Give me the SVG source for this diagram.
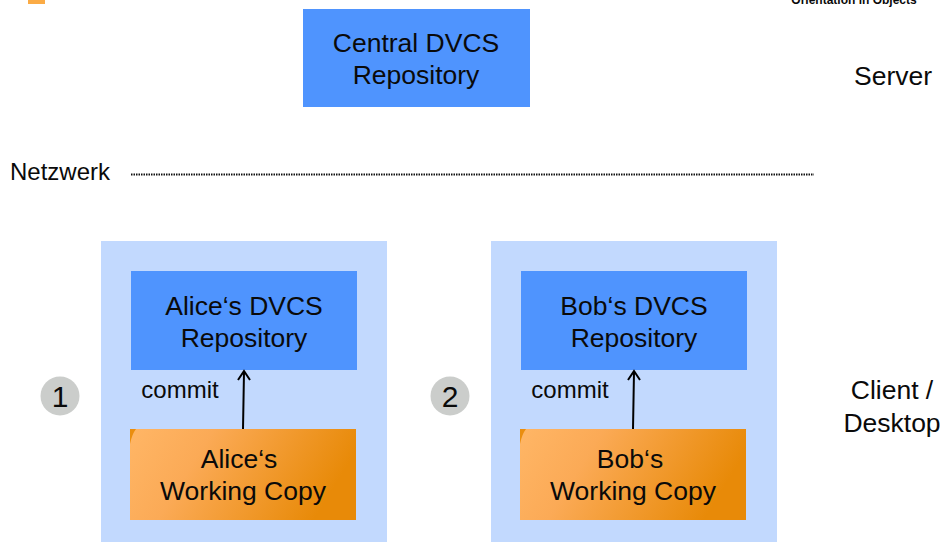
<svg xmlns="http://www.w3.org/2000/svg" width="943" height="542" viewBox="0 0 943 542">
<style>
text{font-family:"Liberation Sans",Arial,sans-serif;font-size:26.500px;fill:#0a0a0a;text-anchor:middle}
.s{font-size:24px}
.blue{fill:#4f94fe}
.panel{fill:#c2d9fe}
.num{fill:#cbcdcb}
.corner{fill:#ea8e10}
.conn{fill:none;stroke:#000;stroke-width:2}
</style>
<defs>
<linearGradient id="org" x1="0" y1="0" x2="1" y2="0.25">
<stop offset="0" stop-color="#ffb666"/><stop offset="0.35" stop-color="#fbaa56"/><stop offset="1" stop-color="#e88a08"/>
</linearGradient>
</defs>
<rect x="28" y="0" width="17" height="4" fill="#fbab45"/>
<text x="854" y="3.500" style="font-size:12px;font-weight:bold">Orientation in Objects</text>
<g id="central"><rect class="blue" x="303" y="9" width="227" height="98"/><text x="416" y="52">Central DVCS</text><text x="416" y="84">Repository</text></g>
<g id="server"><text x="893" y="85">Server</text></g>
<g id="netzwerk"><text class="s" x="60" y="180">Netzwerk</text></g>
<g id="alice-panel"><rect class="panel" x="101" y="241" width="286" height="301"/></g>
<g id="bob-panel"><rect class="panel" x="491" y="241" width="286" height="301"/></g>
<g id="alice-repo"><rect class="blue" x="131" y="271" width="226" height="99"/><text x="244" y="315">Alice‘s DVCS</text><text x="244" y="347">Repository</text></g>
<g id="bob-repo"><rect class="blue" x="521" y="271" width="226" height="99"/><text x="634" y="315">Bob‘s DVCS</text><text x="634" y="347">Repository</text></g>
<g id="alice-wc"><rect fill="url(#org)" x="130" y="429" width="226" height="91"/><path class="corner" d="M130 429H136Q132 434 130 444Z"/><text x="239" y="468">Alice‘s</text><text x="243" y="500">Working Copy</text></g>
<g id="bob-wc"><rect fill="url(#org)" x="520" y="429" width="226" height="91"/><path class="corner" d="M520 429H526Q522 434 520 444Z"/><text x="630" y="468">Bob‘s</text><text x="633" y="500">Working Copy</text></g>
<g id="one"><circle class="num" cx="60" cy="396" r="19.500"/><text x="60" y="407" style="font-size:30px">1</text></g>
<g id="two"><circle class="num" cx="450" cy="396" r="19.500"/><text x="450" y="407" style="font-size:30px">2</text></g>
<g id="client"><text x="892" y="399">Client /</text><text x="892" y="432">Desktop</text></g>
<g id="connectors">
<path d="M131 174.500H814" fill="none" stroke="#111" stroke-width="2" stroke-dasharray="1.500 1"/>
<path class="conn" d="M243 429L244 372M238 380L244 371L250 380"/>
<path class="conn" d="M633 429L634 372M628 380L634 371L640 380"/>
<text class="s" x="180" y="398">commit</text>
<text class="s" x="570" y="398">commit</text>
</g>
</svg>
